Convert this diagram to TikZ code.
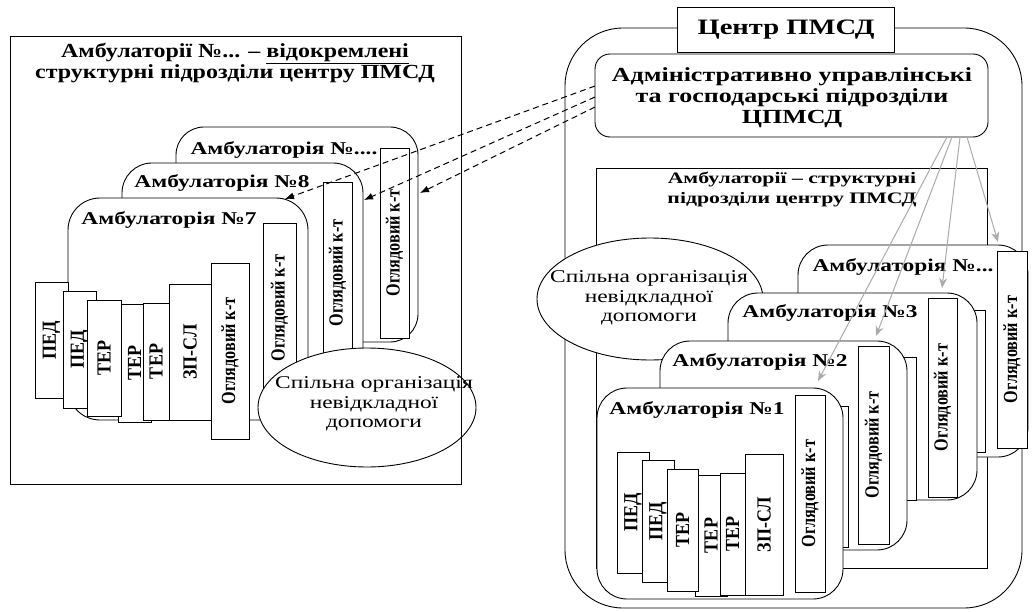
\documentclass[tikz,border=0pt]{standalone}
\usepackage{fontspec}
\setmainfont{Liberation Serif}
\newfontfamily\hfA{Liberation Serif}[FakeStretch=1.2]
\newfontfamily\hfB{Liberation Serif}[FakeStretch=1.3]
\newfontfamily\hfC{Liberation Serif}[FakeStretch=1.36]
\usetikzlibrary{arrows.meta,shapes.geometric}
\newcommand\fs[2]{\fontsize{#1}{#2}\selectfont}
\newcommand\vlab[1]{\rotatebox{90}{\scalebox{0.81}[1]{\bfseries\fs{20}{20}#1}}}
\newcommand\slab[1]{\rotatebox{90}{\scalebox{0.9}[1]{\bfseries\fs{20}{20}#1}}}
\newcommand\Bx[7]{%
 \pgfmathsetmacro\bxc{(#3+#5)/2}%
 \pgfmathsetmacro\byc{(#4+#6)/2}%
 \pgfmathsetmacro\bw{#5-#3}%
 \pgfmathsetmacro\bh{#6-#4}%
 \node[#2, minimum width=\bw pt, minimum height=\bh pt] (#1) at (\bxc,\byc) {#7};}
\tikzset{
 plainbox/.style={draw, line width=0.9pt, fill=white, inner sep=0pt, outer sep=0pt},
 card/.style={plainbox, rounded corners=30pt},
 ctitle/.style={inner sep=0pt, font=\hfB\bfseries\fs{18}{18}},
 eltext/.style={inner sep=0pt, align=center, font=\hfB\fs{18}{19.5}},
 grayarrow/.style={draw=black!33, line width=1pt, -{Stealth[length=10pt,width=8pt]}},
 dasharrow/.style={draw=black, line width=1pt, dash pattern=on 6pt off 4pt, -{Latex[length=9pt,width=7pt]}},
}
\begin{document}
\begin{tikzpicture}[x=1pt,y=-1pt]
\useasboundingbox[fill=white] (0,0) rectangle (1032,612);
% ---------- LEFT PANEL ----------
\node[align=center, inner sep=0pt, font=\hfA\bfseries\fs{20}{19.5}] (lt) at (235,63)
  {Амбулаторії №... – \underline{відокремлені}\\структурні підрозділи центру ПМСД};
\Bx{la}{card, rounded corners=28pt}{176}{127}{418}{342}{}
\node[ctitle] (lat) at (284,150) {Амбулаторія №....};
\Bx{lao}{plainbox}{380}{148}{409}{338}{\vlab{Оглядовий к-т}}
\Bx{lb}{card}{122}{163}{363}{385}{}
\node[ctitle] (lbt) at (222,183) {Амбулаторія №8};
\Bx{lbo}{plainbox}{323}{182}{352}{364}{\vlab{Оглядовий к-т}}
\Bx{lc}{card, rounded corners=32pt}{68}{198}{308}{420}{}
\node[ctitle] (lct) at (169,220) {Амбулаторія №7};
\Bx{lco2}{plainbox}{263}{223}{296}{393}{\vlab{Оглядовий к-т}}
\Bx{lp1}{plainbox}{35}{282}{68}{398}{\slab{ПЕД}}
\Bx{lp2}{plainbox}{63}{291}{96}{408}{\slab{ПЕД}}
\Bx{lt2}{plainbox}{118}{304}{151}{422}{\slab{ТЕР}}
\Bx{lt1}{plainbox}{87}{300}{121}{416}{\slab{ТЕР}}
\Bx{lt3}{plainbox}{143}{303}{169}{420}{\slab{ТЕР}}
\Bx{lz}{plainbox}{169}{284}{211}{420}{\slab{ЗП-СЛ}}
\Bx{lco}{plainbox}{211}{263}{249}{439}{\vlab{Оглядовий к-т}}
\node[ellipse, draw, line width=0.9pt, fill=white, inner sep=0pt, minimum width=218pt, minimum height=119pt] (le) at (367,407.5) {};
\node[eltext] (let) at (374,404) {Спільна організація\\невідкладної\\допомоги};
\Bx{lp}{draw, line width=0.9pt, inner sep=0pt}{10}{36}{461}{484}{}
% ---------- RIGHT PANEL ----------
\Bx{ro}{draw, line width=0.9pt, rounded corners=58pt, inner sep=0pt}{565}{28}{1022}{608}{}
\Bx{rc}{plainbox}{677}{7}{894}{52}{}
\node[inner sep=0pt, font=\hfB\bfseries\fs{22}{22}] (rct) at (786,30) {Центр ПМСД};
\Bx{ra}{plainbox, rounded corners=15pt}{595}{54}{988}{137}{}
\node[align=center, inner sep=0pt, font=\hfB\bfseries\fs{20}{21}] (rat) at (792,98)
  {Адміністративно управлінські\\та господарські підрозділи\\ЦПМСД};
\Bx{ri}{plainbox}{596}{168}{987}{568}{}
\node[align=center, inner sep=0pt, font=\hfC\bfseries\fs{16}{20}] (rit) at (792,190)
  {Амбулаторії – структурні\\підрозділи центру ПМСД};
\node[ellipse, draw, line width=0.9pt, fill=white, inner sep=0pt, minimum width=226pt, minimum height=122pt] (re) at (650,299) {};
\node[eltext] (ret) at (649,298) {Спільна організація\\невідкладної\\допомоги};
% card ...
\Bx{rd}{card}{798}{245}{1028}{457}{}
\node[ctitle] (rdt) at (903,267) {Амбулаторія №...};
\Bx{rdo}{plainbox}{997}{251}{1027}{448}{\vlab{Оглядовий к-т}}
% card 3
\Bx{r3s}{plainbox}{957}{310}{985}{452}{}
\Bx{r3}{card}{728}{293}{977}{500}{}
\node[ctitle] (r3t) at (830,313) {Амбулаторія №3};
\Bx{r3o}{plainbox}{928}{298}{957}{497}{\vlab{Оглядовий к-т}}
% card 2
\Bx{r2s}{plainbox}{889}{357}{916}{500}{}
\Bx{r2}{card}{660}{341}{907}{550}{}
\node[ctitle] (r2t) at (760,362) {Амбулаторія №2};
\Bx{r2o}{plainbox}{858}{346}{889}{544}{\vlab{Оглядовий к-т}}
% card 1
\Bx{r1s}{plainbox}{825}{406}{848}{547}{}
\Bx{r1}{card}{597}{388}{843}{599}{}
\node[ctitle] (r1t) at (697,410) {Амбулаторія №1};
\Bx{rp1}{plainbox}{617}{452}{649}{573}{\slab{ПЕД}}
\Bx{rp2}{plainbox}{642}{460}{674}{582}{\slab{ПЕД}}
\Bx{rt2}{plainbox}{695}{475}{727}{596}{\slab{ТЕР}}
\Bx{rt1}{plainbox}{667}{469}{698}{591}{\slab{ТЕР}}
\Bx{rt3}{plainbox}{720}{473}{745}{595}{\slab{ТЕР}}
\Bx{rz}{plainbox}{745}{454}{783}{595}{\slab{ЗП-СЛ}}
\Bx{r1o}{plainbox}{795}{395}{825}{592}{\vlab{Оглядовий к-т}}
% ---------- ARROWS ----------
\coordinate (g1s) at (947,137); \coordinate (g1e) at (818,381);
\coordinate (g2s) at (952,137); \coordinate (g2e) at (876,336);
\coordinate (g3s) at (960,137); \coordinate (g3e) at (942,288);
\coordinate (g4s) at (967,137); \coordinate (g4e) at (998,242);
\draw[grayarrow] (g1s) -- (g1e);
\draw[grayarrow] (g2s) -- (g2e);
\draw[grayarrow] (g3s) -- (g3e);
\draw[grayarrow] (g4s) -- (g4e);
\coordinate (d1s) at (595,86);  \coordinate (d1e) at (285,199);
\coordinate (d2s) at (595,97);  \coordinate (d2e) at (364,200);
\coordinate (d3s) at (595,107); \coordinate (d3e) at (420,193);
\draw[dasharrow] (d1s) -- (d1e);
\draw[dasharrow] (d2s) -- (d2e);
\draw[dasharrow] (d3s) -- (d3e);
\end{tikzpicture}
\end{document}
